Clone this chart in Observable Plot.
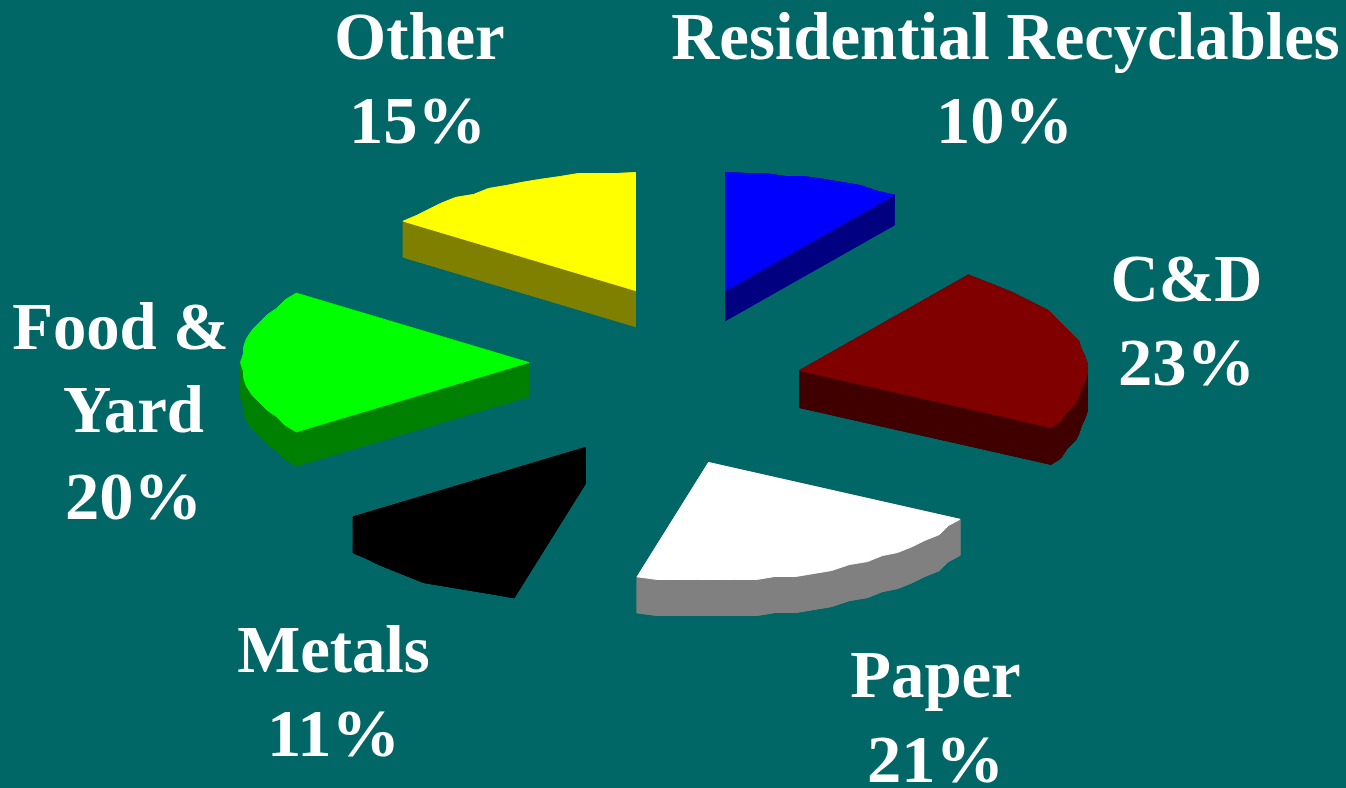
<!DOCTYPE html>
<html>
<head>
<meta charset="utf-8">
<style>
html,body{margin:0;padding:0;background:#006666;overflow:hidden}
svg{display:block}
</style>
<script src="https://cdn.jsdelivr.net/npm/d3@7"></script>
<script src="https://cdn.jsdelivr.net/npm/@observablehq/plot@0.6"></script>
</head>
<body>
<script>
const categories = ["Residential Recyclables", "C&D", "Paper", "Metals", "Food &\nYard", "Other"];
const shares = [10, 23, 21, 11, 20, 15];
const topColors = ["#0000ff", "#800000", "#ffffff", "#000000", "#00ff00", "#ffff00"];
const sideColors = ["#000080", "#400000", "#808080", "#000000", "#008000", "#808000"];
const apexX = [725, 799, 708, 585, 528, 635];
const apexY = [290, 370, 462, 447, 362, 290];
const depths = [30, 37, 36, 36, 34, 36];
const labelX = [[1005, 1004], [1186, 1186], [935, 935], [333, 333], [120, 133, 133], [419, 417]];
const labelY = [[58, 142], [300, 384], [696, 781], [671, 755], [348, 431, 518], [58, 142]];

const radiusX = 287, radiusY = 118, stepDeg = 4, grid = 3;

const snap = v => Math.round(v / grid) * grid;
let cum = 0;
const topRows = [], sideRows = [], textRows = [];
shares.forEach((v, i) => {
  const t0 = cum / 100 * 2 * Math.PI;
  cum += v;
  const t1 = cum / 100 * 2 * Math.PI;
  const n = Math.max(2, Math.round((t1 - t0) * 180 / Math.PI / stepDeg));
  const pts = [[apexX[i], apexY[i]]];
  for (let k = 0; k <= n; k++) {
    const t = t0 + (t1 - t0) * k / n;
    const x = radiusX * Math.sin(t), y = -radiusY * Math.cos(t);
    const edge = k === 0 || k === n;
    pts.push([apexX[i] + (edge ? x : snap(x)), apexY[i] + (edge ? y : snap(y))]);
  }
  const d = depths[i];
  pts.forEach(([x, y]) => sideRows.push({z: `${i}b`, x, y: y + d, c: sideColors[i]}));
  sideRows.push({z: `${i}b`, x: pts[0][0], y: pts[0][1] + d, c: sideColors[i]});
  pts.forEach((p, k) => {
    const q = pts[(k + 1) % pts.length], z = `${i}q${k}`, c = sideColors[i];
    sideRows.push({z, x: p[0], y: p[1], c}, {z, x: q[0], y: q[1], c},
                  {z, x: q[0], y: q[1] + d, c}, {z, x: p[0], y: p[1] + d, c},
                  {z, x: p[0], y: p[1], c});
  });
  pts.forEach(([x, y]) => topRows.push({z: `${i}t`, x, y, c: topColors[i]}));
  topRows.push({z: `${i}t`, x: pts[0][0], y: pts[0][1], c: topColors[i]});
  const lines = (categories[i] + "\n" + v + "%").split("\n");
  lines.forEach((s, k) => textRows.push({s, x: labelX[i][k], y: labelY[i][k], pct: k === lines.length - 1}));
});

const chart = Plot.plot({
  width: 1346, height: 788,
  margin: 0,
  style: {background: "#006666"},
  x: {domain: [0, 1346], range: [0, 1346], axis: null},
  y: {domain: [0, 788], range: [0, 788], axis: null},
  marks: [
    Plot.line(sideRows, {x: "x", y: "y", z: "z", fill: "c", stroke: "c", strokeWidth: 1, curve: "linear"}),
    Plot.line(topRows, {x: "x", y: "y", z: "z", fill: "c", stroke: "c", strokeWidth: 1, curve: "linear"}),
    Plot.text(textRows, {x: "x", y: "y", text: "s", fill: "#ffffff", fontFamily: "Liberation Serif", fontWeight: "bold", fontSize: d => d.pct ? 68.5 : 66.7, textAnchor: "middle", lineAnchor: "bottom"})
  ]
});
document.body.appendChild(chart);
</script>
</body>
</html>
